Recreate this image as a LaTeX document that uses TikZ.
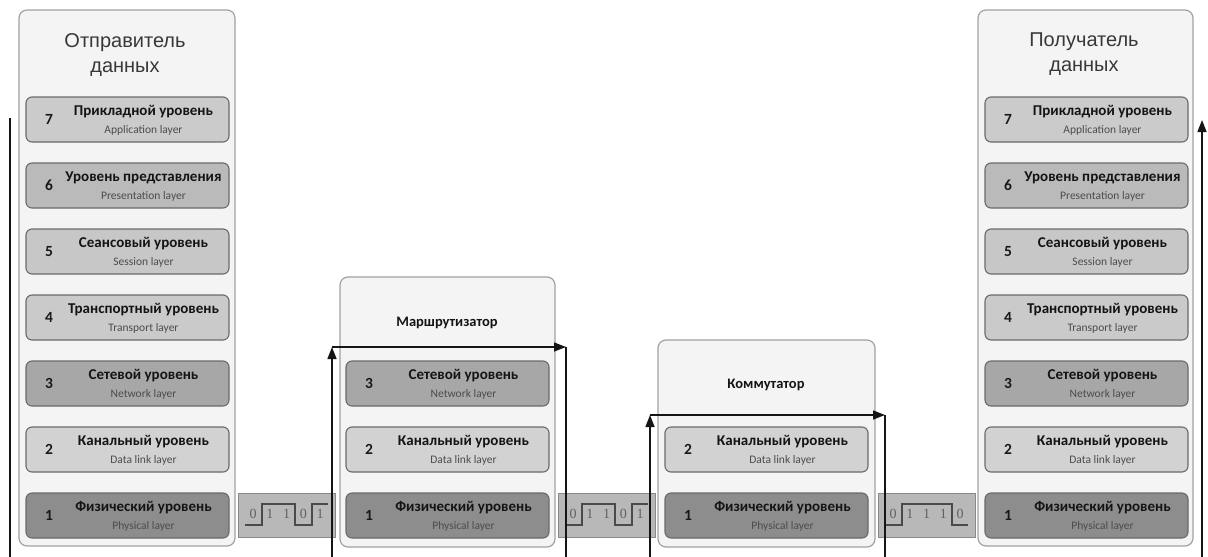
\documentclass[tikz,border=0pt]{standalone}
\usepackage{fontspec}
\setmainfont{Carlito}
\newfontfamily\headfont{Liberation Sans}
\newfontfamily\bitfont{Liberation Serif}
\usetikzlibrary{arrows.meta,calc}

\definecolor{panelfill}{HTML}{F4F4F4}
\definecolor{panelline}{HTML}{A2A2A2}
\definecolor{layerline}{HTML}{6A6A6A}
\definecolor{lseven}{HTML}{CBCBCB}
\definecolor{lsix}{HTML}{BABABA}
\definecolor{lfive}{HTML}{C7C7C7}
\definecolor{lfour}{HTML}{CACACA}
\definecolor{lthree}{HTML}{A7A7A7}
\definecolor{ltwo}{HTML}{D2D2D2}
\definecolor{lone}{HTML}{8D8D8D}
\definecolor{bitfill}{HTML}{B8B8B8}
\definecolor{bitline}{HTML}{8A8A8A}
\definecolor{wavecol}{HTML}{4A4A4A}
\definecolor{flowcol}{HTML}{151515}

\tikzset{
  panel/.style={draw=panelline, line width=1.2pt, fill=panelfill, rounded corners=8pt,
    anchor=north west, inner sep=0pt, outer sep=0pt},
  layerbox/.style={draw=layerline, line width=1.1pt, rounded corners=6pt,
    minimum width=203pt, minimum height=45pt, inner sep=0pt, outer sep=0pt, anchor=north west},
  numtext/.style={font=\fontsize{15.5}{17}\selectfont\bfseries, text=black!90, inner sep=0pt},
  rutext/.style={font=\fontsize{15}{17}\selectfont\bfseries, text=black!92, inner sep=0pt, anchor=base},
  entext/.style={font=\fontsize{11.5}{13}\selectfont, text=black!70, inner sep=0pt, anchor=base},
  headtext/.style={font=\headfont\fontsize{20}{25}\selectfont, text=black!78, align=center,
    inner sep=0pt, anchor=north},
  devtext/.style={font=\fontsize{14.5}{16}\selectfont\bfseries, text=black!92, inner sep=0pt},
  bitbox/.style={draw=bitline, line width=1pt, fill=bitfill, minimum width=97pt,
    minimum height=44pt, inner sep=0pt, outer sep=0pt, anchor=north west},
  bittext/.style={font=\bitfont\fontsize{14}{15}\selectfont, text=black!62, inner sep=0pt},
  wave/.style={draw=wavecol, line width=1.4pt},
  flow/.style={draw=flowcol, line width=1.4pt},
  flowarrow/.style={flow, -{Triangle[length=12pt,width=9pt]}},
}

% one OSI layer: name, top-left corner, fill, number, Russian name, English name
\newcommand\osilayer[6]{%
  \node[layerbox, fill=#3] (#1) at (#2) {};
  \node[numtext] (#1-num) at ($(#1.west)+(23,0)$) {#4};
  \node[rutext] (#1-ru) at ($(#1.north)+(16,18)$) {#5};
  \node[entext] (#1-en) at ($(#1.north)+(16,36)$) {#6};
}

% bit strip on the physical medium: name, top-left corner, digits
\newcommand\bitstrip[3]{%
  \node[bitbox] (#1) at (#2) {};
  \foreach \d [count=\i] in {#3} {
    \node[bittext] (#1-\i) at ($(#1.north west)+({-1.75+16.75*\i},21)$) {\d};
  }
}

\newcommand\fullstack[2]{% name prefix, left x
  \osilayer{#1-7}{#2,97}{lseven}{7}{Прикладной уровень}{Application layer}
  \osilayer{#1-6}{#2,163}{lsix}{6}{Уровень представления}{Presentation layer}
  \osilayer{#1-5}{#2,229}{lfive}{5}{Сеансовый уровень}{Session layer}
  \osilayer{#1-4}{#2,295}{lfour}{4}{Транспортный уровень}{Transport layer}
  \osilayer{#1-3}{#2,361}{lthree}{3}{Сетевой уровень}{Network layer}
  \osilayer{#1-2}{#2,427}{ltwo}{2}{Канальный уровень}{Data link layer}
  \osilayer{#1-1}{#2,493}{lone}{1}{Физический уровень}{Physical layer}
}

\begin{document}
\begin{tikzpicture}[x=1pt, y=-1pt]
  \useasboundingbox (0,0) rectangle (1208,557);
  \fill[white] (0,0) rectangle (1208,557);

  % sender
  \node[panel, minimum width=216pt, minimum height=536pt] (sender) at (19,10) {};
  \node[headtext] (sender-title) at (125,33) {Отправитель\\данных};
  \fullstack{snd}{26}

  % router
  \node[panel, minimum width=215pt, minimum height=270pt] (router) at (340,277) {};
  \node[devtext] (router-title) at (447,323) {Маршрутизатор};
  \osilayer{rt-3}{346,361}{lthree}{3}{Сетевой уровень}{Network layer}
  \osilayer{rt-2}{346,427}{ltwo}{2}{Канальный уровень}{Data link layer}
  \osilayer{rt-1}{346,493}{lone}{1}{Физический уровень}{Physical layer}

  % switch
  \node[panel, minimum width=217pt, minimum height=207pt] (switch) at (658,340) {};
  \node[devtext] (switch-title) at (766,385) {Коммутатор};
  \osilayer{sw-2}{665,427}{ltwo}{2}{Канальный уровень}{Data link layer}
  \osilayer{sw-1}{665,493}{lone}{1}{Физический уровень}{Physical layer}

  % receiver
  \node[panel, minimum width=215pt, minimum height=536pt] (receiver) at (978,10) {};
  \node[headtext] (receiver-title) at (1084,33) {Получатель\\данных};
  \fullstack{rcv}{985}

  % bit strips between devices
  \bitstrip{bitsA}{238,493}{0,1,1,0,1}
  \bitstrip{bitsB}{558,493}{0,1,1,0,1}
  \bitstrip{bitsC}{878,493}{0,1,1,1,0}

  \draw[wave] ($(bitsA.north west)+(7,32)$) -- ++(17,0) -- ++(0,-21) -- ++(33,0)
    -- ++(0,21) -- ++(17,0) -- ++(0,-21) -- ++(16,0);
  \draw[wave] ($(bitsB.north west)+(7,32)$) -- ++(17,0) -- ++(0,-21) -- ++(33,0)
    -- ++(0,21) -- ++(17,0) -- ++(0,-21) -- ++(16,0);
  \draw[wave] ($(bitsC.north west)+(7,32)$) -- ++(17,0) -- ++(0,-21) -- ++(50,0)
    -- ++(0,21) -- ++(16,0);

  % data path
  \coordinate (src-top) at (10,118);
  \coordinate (src-bot) at (10,557);
  \coordinate (rt-in-bot) at (332,557);
  \coordinate (rt-in-top) at (332,347);
  \coordinate (rt-out-top) at (566,347);
  \coordinate (rt-out-bot) at (566,557);
  \coordinate (sw-in-bot) at (650,557);
  \coordinate (sw-in-top) at (650,415);
  \coordinate (sw-out-top) at (885,415);
  \coordinate (sw-out-bot) at (885,557);
  \coordinate (dst-bot) at (1202,557);
  \coordinate (dst-top) at (1202,120);

  \draw[flow] (src-top) -- (src-bot);
  \draw[flowarrow] (rt-in-bot) -- (rt-in-top);
  \draw[flowarrow] (rt-in-top) -- (rt-out-top);
  \draw[flow] (rt-out-top) -- (rt-out-bot);
  \draw[flowarrow] (sw-in-bot) -- (sw-in-top);
  \draw[flowarrow] (sw-in-top) -- (sw-out-top);
  \draw[flow] (sw-out-top) -- (sw-out-bot);
  \draw[flowarrow] (dst-bot) -- (dst-top);
\end{tikzpicture}
\end{document}
